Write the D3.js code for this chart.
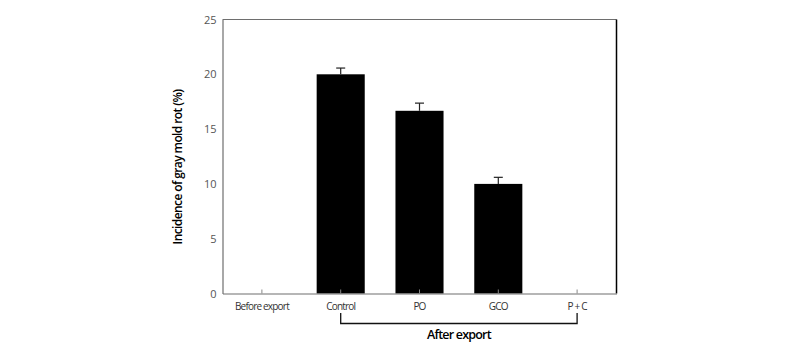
<!DOCTYPE html>
<html>
<head>
<meta charset="utf-8">
<script src="https://cdn.jsdelivr.net/npm/d3@7/dist/d3.min.js"></script>
<style>
  html, body { margin: 0; padding: 0; background: #fff; }
  svg { display: block; }
  text { font-family: "Open Sans", "Noto Sans", sans-serif; }
</style>
</head>
<body>
<svg id="chart" width="800" height="349"></svg>
<script>
// Incidence of gray mold rot by treatment
const categories = ["Before export", "Control", "PO", "GCO", "P + C"];
const incidence = [0, 20.0, 16.67, 10.0, 0];
const errors = [0, 0.57, 0.7, 0.6, 0];
const yTicks = [0, 5, 10, 15, 20, 25];

const svg = d3.select("#chart");
const m = { left: 222.5, right: 616.5, top: 19.5, bottom: 293.5 };

const x = d3.scaleBand().domain(categories).range([m.left, m.right]).padding(0);
const y = d3.scaleLinear().domain([0, 25]).range([m.bottom, m.top]);
const barW = x.bandwidth() * 0.61;

// bars
svg.append("g").selectAll("rect")
  .data(categories.map((c, i) => ({ c, v: incidence[i], e: errors[i] })).filter(d => d.v > 0))
  .join("rect")
  .attr("x", d => x(d.c) + x.bandwidth() / 2 - barW / 2)
  .attr("width", barW)
  .attr("y", d => y(d.v))
  .attr("height", d => y(0) - y(d.v))
  .attr("fill", "#000");

// error bars (upper half only)
const eb = svg.append("g").attr("stroke", "#222").attr("stroke-width", 1.2);
categories.forEach((c, i) => {
  if (!errors[i]) return;
  const cx = x(c) + x.bandwidth() / 2;
  eb.append("line").attr("x1", cx).attr("x2", cx).attr("y1", y(incidence[i])).attr("y2", y(incidence[i] + errors[i]));
  eb.append("line").attr("x1", cx - 4.5).attr("x2", cx + 4.5).attr("y1", y(incidence[i] + errors[i])).attr("y2", y(incidence[i] + errors[i]));
});

// frame
svg.append("line").attr("x1", m.left).attr("x2", m.right).attr("y1", m.top).attr("y2", m.top).attr("stroke", "#6e6e6e").attr("stroke-width", 1.2);
svg.append("line").attr("x1", m.right).attr("x2", m.right).attr("y1", m.top).attr("y2", m.bottom).attr("stroke", "#000").attr("stroke-width", 1.5);

// y axis
const yAxis = svg.append("g").attr("transform", `translate(${m.left},0)`)
  .call(d3.axisLeft(y).tickValues(yTicks).tickSize(0).tickPadding(6));
yAxis.select(".domain").attr("stroke", "#6e6e6e").attr("stroke-width", 1.2);
yAxis.selectAll("text").attr("font-size", 11).attr("fill", "#555");

// x axis with inward ticks
const xAxis = svg.append("g").attr("transform", `translate(0,${m.bottom})`)
  .call(d3.axisBottom(x).tickSizeInner(-4).tickSizeOuter(0).tickPadding(7));
xAxis.select(".domain").attr("stroke", "#6e6e6e").attr("stroke-width", 1.2);
xAxis.selectAll(".tick line").attr("stroke", "#888");
xAxis.selectAll("text").attr("font-size", 10).attr("fill", "#333").attr("letter-spacing", "-0.8px").attr("dy", "0.9em");

// bracket grouping the after-export treatments
const bx1 = x("Control") + x.bandwidth() / 2;
const bx2 = x("P + C") + x.bandwidth() / 2;
svg.append("path")
  .attr("d", `M${bx1},313 V323.5 H${bx2} V313`)
  .attr("fill", "none").attr("stroke", "#111").attr("stroke-width", 1.3);
svg.append("text").attr("x", (bx1 + bx2) / 2).attr("y", 339)
  .attr("text-anchor", "middle").attr("font-size", 12.5).attr("fill", "#000")
  .attr("font-weight", 600).attr("letter-spacing", "-0.8px").text("After export");

// y axis title
svg.append("text")
  .attr("transform", `translate(182,167) rotate(-90)`)
  .attr("text-anchor", "middle").attr("font-size", 12).attr("fill", "#000")
  .attr("font-weight", 600).attr("letter-spacing", "-0.6px")
  .text("Incidence of gray mold rot (%)");
</script>
</body>
</html>
